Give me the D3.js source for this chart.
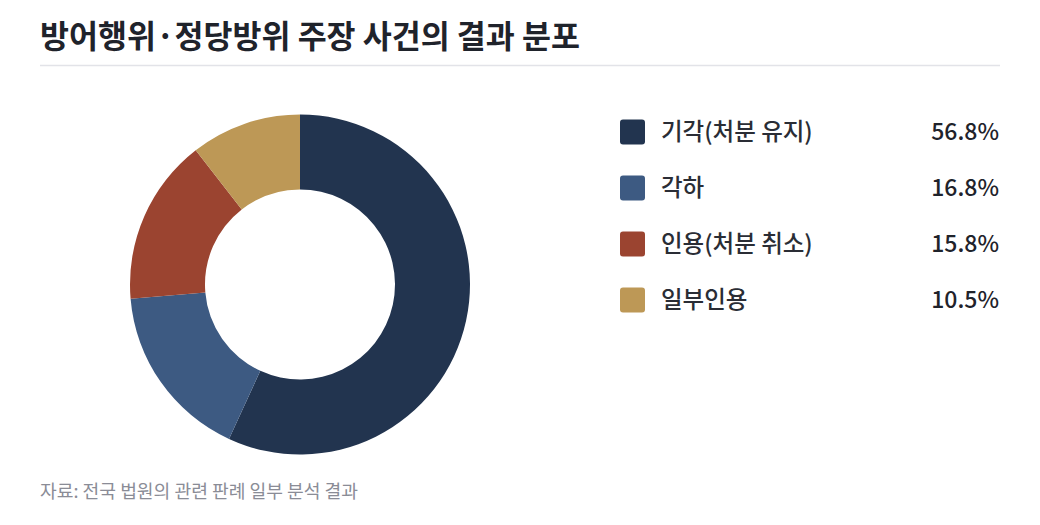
<!DOCTYPE html>
<html><head><meta charset="utf-8">
<script src="https://cdn.jsdelivr.net/npm/d3@7"></script>
<style>
html,body{margin:0;padding:0;background:#fff;}
svg{display:block;font-family:"Noto Sans CJK KR","Noto Sans",sans-serif;}
</style></head>
<body>
<svg id="chart" width="1040" height="525"></svg>
<script>
const title = "방어행위·정당방위 주장 사건의 결과 분포";
const source = "자료: 전국 법원의 관련 판례 일부 분석 결과";
const categories = ["기각(처분 유지)", "각하", "인용(처분 취소)", "일부인용"];
const values = [56.8, 16.8, 15.8, 10.5];
const colors = ["#22344f", "#3d5a82", "#9b4430", "#bd9856"];

const svg = d3.select("#chart");

svg.append("text").attr("x", 40).attr("y", 48)
  .attr("font-size", 31.5).attr("font-weight", 700).attr("fill", "#1f232b")
  .text(title);
svg.append("line").attr("x1", 40).attr("x2", 1000).attr("y1", 65.5).attr("y2", 65.5)
  .attr("stroke", "#e2e3e8").attr("stroke-width", 1.5);

const data = categories.map((c, i) => ({cat: c, value: values[i], color: colors[i]}));
const pie = d3.pie().value(d => d.value).sort(null);
const arc = d3.arc().innerRadius(95).outerRadius(170);
const g = svg.append("g").attr("transform", "translate(300,284.5)");
g.selectAll("path").data(pie(data)).join("path")
  .attr("d", arc).attr("fill", d => d.data.color);

const y = d3.scalePoint().domain(categories).range([132, 300]);
const leg = svg.append("g");
const rows = leg.selectAll("g").data(data).join("g")
  .attr("transform", d => `translate(0,${y(d.cat)})`);
rows.append("rect").attr("x", 620).attr("y", -12.5).attr("width", 25).attr("height", 25)
  .attr("rx", 3).attr("fill", d => d.color);
rows.append("text").attr("x", 661).attr("y", 0).attr("dy", "0.35em")
  .attr("font-size", 23.5).attr("font-weight", 500).attr("fill", "#2a2d35").text(d => d.cat);
rows.append("text").attr("x", 999).attr("y", 0).attr("dy", "0.35em")
  .attr("text-anchor", "end").attr("font-size", 23).attr("font-weight", 500)
  .attr("fill", "#1f232b").text(d => d.value.toFixed(1) + "%");

svg.append("text").attr("x", 40).attr("y", 498)
  .attr("font-size", 18.2).attr("fill", "#8a8c96").text(source);
</script>
</body></html>
